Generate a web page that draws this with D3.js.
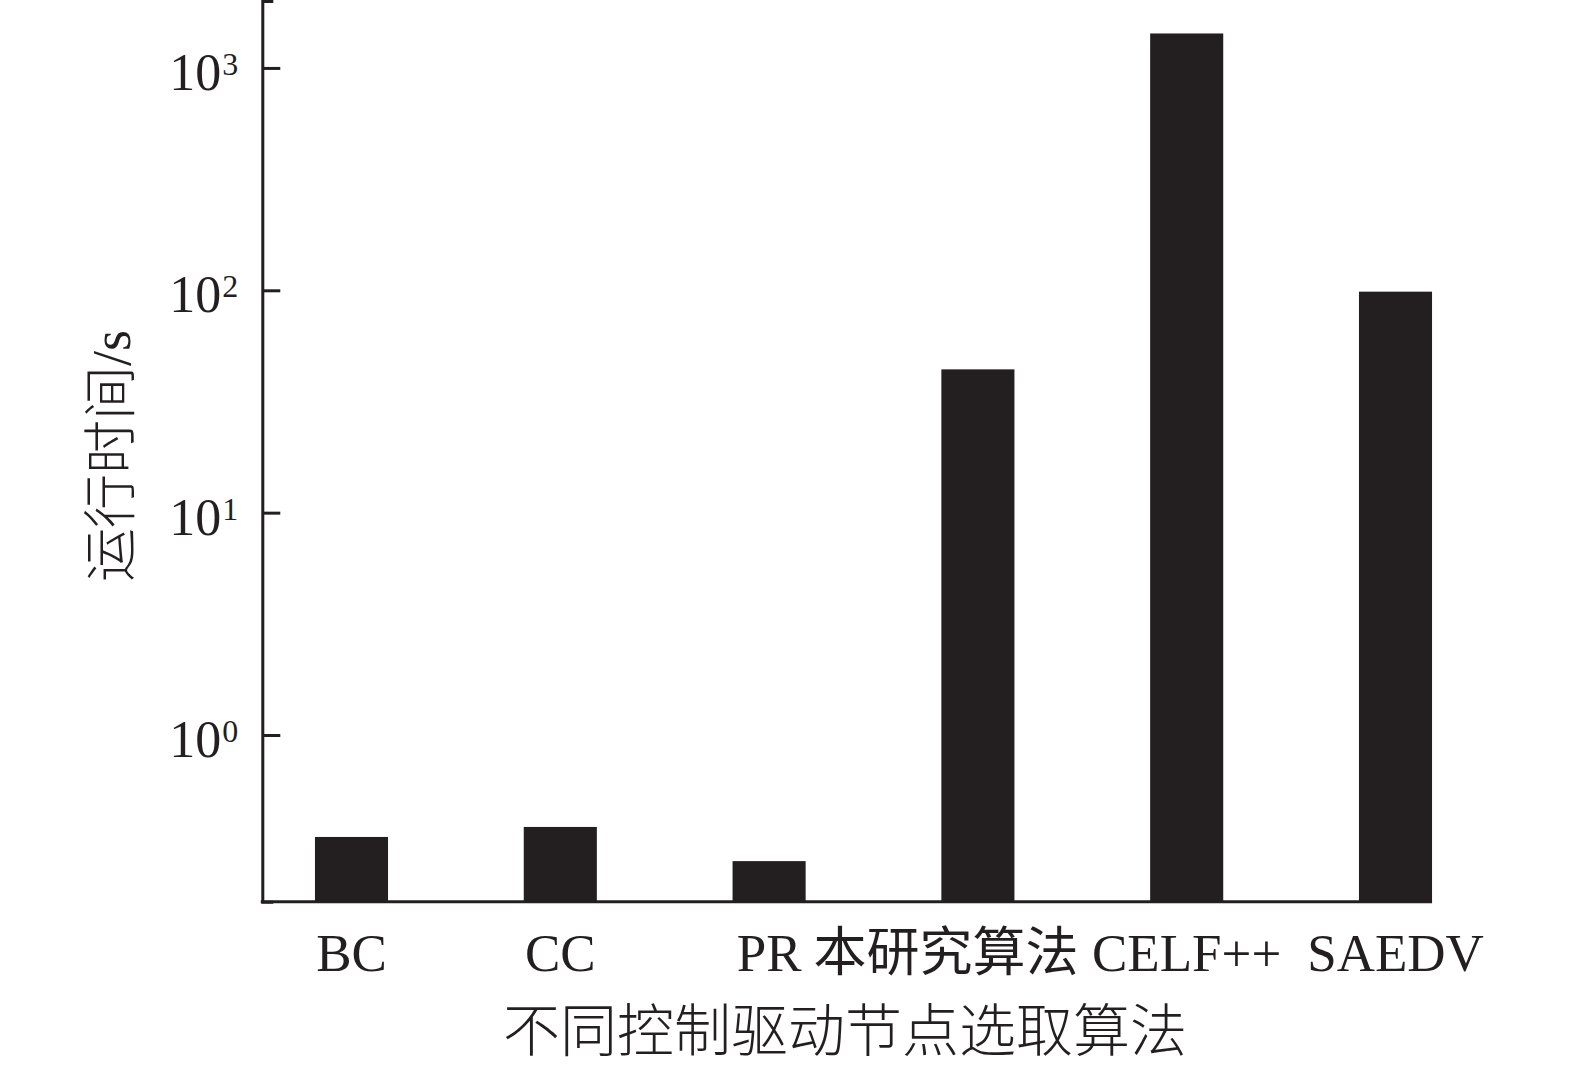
<!DOCTYPE html>
<html>
<head>
<meta charset="utf-8">
<script src="https://cdn.jsdelivr.net/npm/d3@7"></script>
<style>
  html, body { margin: 0; padding: 0; background: #fff; }
  svg { display: block; }
  text { font-family: "Liberation Serif", "Noto Sans CJK SC", serif; fill: #231f20; }
</style>
</head>
<body>
<svg id="chart" width="1575" height="1066"></svg>
<script>
// ---- data ----
const categories = ["BC", "CC", "PR", "本研究算法", "CELF++", "SAEDV"];
const runtimes = [0.348, 0.386, 0.271, 44.1, 1429, 98.6];
const tickValues = [1, 10, 100, 1000];
const tickBase = ["10", "10", "10", "10"];
const tickExponent = ["0", "1", "2", "3"];
const xTitle = "不同控制驱动节点选取算法";
const yTitle = "运行时间/s";

// ---- layout ----
const ink = "#231f20";
const svg = d3.select("#chart");
const axisX = 262.3;
const axisBottomY = 901.7;

const x = d3.scaleBand()
  .domain(categories)
  .range([247.1, 1499.9])
  .paddingInner(0.65)
  .paddingOuter(0.325);

const y = d3.scaleLog()
  .domain([0.178, 2000])
  .range([axisBottomY, 1]);

// bars
svg.append("g").selectAll("rect")
  .data(categories.map((c, i) => ({ c, v: runtimes[i] })))
  .join("rect")
  .attr("x", d => x(d.c))
  .attr("width", x.bandwidth())
  .attr("y", d => y(d.v))
  .attr("height", d => axisBottomY - y(d.v))
  .attr("fill", ink);

// y axis (ticks pointing inward)
const yAxis = d3.axisRight(y)
  .tickValues(tickValues)
  .tickSize(18)
  .tickSizeOuter(11)
  .tickFormat("");
const gy = svg.append("g")
  .attr("transform", `translate(${axisX},0)`)
  .call(yAxis);
gy.selectAll("path, line").attr("stroke", ink).attr("stroke-width", 3);

// y tick labels with superscripts
const tl = svg.append("g").selectAll("text")
  .data(tickValues)
  .join("text")
  .attr("x", axisX - 24)
  .attr("y", d => y(d) + 22)
  .attr("text-anchor", "end");
tl.append("tspan")
  .attr("font-size", 52)
  .text((d, i) => tickBase[i]);
tl.append("tspan")
  .attr("font-size", 32)
  .attr("dx", 1)
  .attr("dy", -15)
  .text((d, i) => tickExponent[i]);

// x axis line
const xEnd = x(categories[categories.length - 1]) + x.bandwidth();
svg.append("line")
  .attr("x1", axisX - 1.5)
  .attr("x2", xEnd)
  .attr("y1", axisBottomY)
  .attr("y2", axisBottomY)
  .attr("stroke", ink)
  .attr("stroke-width", 3);

// category labels
const labelNudge = { "本研究算法": -32 };
svg.append("g").selectAll("text")
  .data(categories)
  .join("text")
  .attr("x", d => x(d) + x.bandwidth() / 2 + (labelNudge[d] || 0))
  .attr("y", 971)
  .attr("text-anchor", "middle")
  .attr("font-size", 53)
  .text(d => d);

// axis titles
svg.append("text")
  .attr("x", 845)
  .attr("y", 1051)
  .attr("text-anchor", "middle")
  .attr("font-size", 57)
  .attr("font-weight", 300)
  .text(xTitle);

svg.append("text")
  .attr("transform", "translate(112,456) rotate(-90)")
  .attr("text-anchor", "middle")
  .attr("dominant-baseline", "central")
  .attr("font-size", 54)
  .attr("font-weight", 300)
  .text(yTitle);
</script>
</body>
</html>
